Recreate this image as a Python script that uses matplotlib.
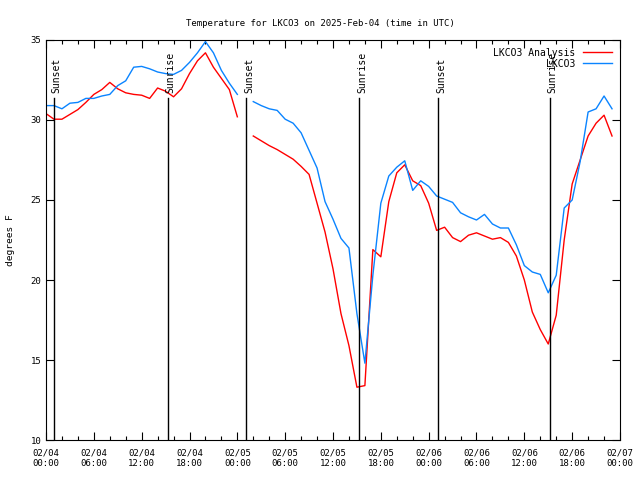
import numpy as np
import matplotlib
matplotlib.use("Agg")
import matplotlib.pyplot as plt

# hours since 02/04 00:00 UTC, hourly values (nan = missing hour)
hours = list(range(0, 72))
analysis = [30.4, 30.05, 30.05, 30.35, 30.65, 31.1, 31.6, 31.9, 32.35, 31.95,
            31.7, 31.6, 31.55, 31.35, 32.0, 31.8, 31.45, 31.95, 32.9, 33.7,
            34.2, 33.3, 32.6, 31.9, 30.2, np.nan, 29.0, 28.7, 28.4, 28.15,
            27.85, 27.55, 27.1, 26.6, 24.8, 23.0, 20.7, 17.9, 15.9, 13.3,
            13.4, 21.9, 21.45, 24.9, 26.7, 27.2, 26.2, 25.9, 24.8, 23.1,
            23.3, 22.65, 22.4, 22.8, 22.95, 22.75, 22.55, 22.65, 22.35, 21.5,
            20.0, 18.0, 16.9, 16.0, 17.8, 22.5, 26.0, 27.5, 29.0, 29.8,
            30.3, 29.0]
observed = [30.9, 30.9, 30.7, 31.05, 31.1, 31.35, 31.35, 31.5, 31.6, 32.15,
            32.45, 33.3, 33.35, 33.2, 33.0, 32.9, 32.85, 33.1, 33.6, 34.2,
            34.9, 34.2, 33.1, 32.3, 31.6, np.nan, 31.15, 30.9, 30.7, 30.6,
            30.05, 29.8, 29.2, 28.1, 27.0, 24.9, 23.8, 22.6, 22.0, 17.9,
            14.8, 20.3, 24.8, 26.5, 27.05, 27.45, 25.6, 26.2, 25.85, 25.25,
            25.05, 24.85, 24.2, 23.95, 23.75, 24.1, 23.5, 23.25, 23.25, 22.2,
            20.9, 20.5, 20.35, 19.2, 20.3, 24.5, 25.0, 27.4, 30.5, 30.7,
            31.5, 30.7]

sun_hours = [1.0, 15.3, 25.1, 39.3, 49.2, 63.2]
sun_labels = ["Sunset", "Sunrise", "Sunset", "Sunrise", "Sunset", "Sunrise"]

tick_hours = list(range(0, 73, 6))
tick_labels = ["02/04\n00:00", "02/04\n06:00", "02/04\n12:00", "02/04\n18:00",
               "02/05\n00:00", "02/05\n06:00", "02/05\n12:00", "02/05\n18:00",
               "02/06\n00:00", "02/06\n06:00", "02/06\n12:00", "02/06\n18:00",
               "02/07\n00:00"]

plt.rcParams['font.family'] = ['DejaVu Sans Mono']
fs = 6.5

fig = plt.figure(figsize=(6.4, 4.8), dpi=100)
ax = fig.add_axes([46/640, 40/480, 574/640, 400/480])

ax.plot(hours, analysis, color='#ff0000', lw=1.0, label='LKCO3 Analysis')
ax.plot(hours, observed, color='#0a84ff', lw=1.0, label='LKCO3')

# sunrise / sunset markers
for h, lab in zip(sun_hours, sun_labels):
    ax.plot([h, h], [10, 31.4], color='black', lw=1.0)
    ax.text(h + 0.35, 31.7, lab, rotation=90, ha='center', va='bottom', fontsize=fs + 0.5)

ax.set_xlim(0, 72)
ax.set_ylim(10, 35)
ax.set_xticks(tick_hours)
ax.set_xticklabels(tick_labels, fontsize=fs)
ax.set_xticks(range(0, 73, 2), minor=True)
ax.set_yticks([10, 15, 20, 25, 30, 35])
ax.tick_params(axis='both', which='both', direction='in', top=True, right=True,
               labelsize=fs, width=0.8)
ax.tick_params(axis='both', which='major', length=6)
ax.tick_params(axis='x', which='minor', length=3)
ax.tick_params(axis='x', which='major', pad=6)
for s in ax.spines.values():
    s.set_linewidth(0.8)

ax.set_ylabel("degrees F", fontsize=fs + 0.3, labelpad=11)
fig.suptitle("Temperature for LKCO3 on 2025-Feb-04 (time in UTC)", y=0.96, fontsize=fs)

leg = ax.legend(loc='upper right', frameon=False, fontsize=fs + 0.5, markerfirst=False,
                handlelength=3.0, borderaxespad=0.4, labelspacing=0.1)
for t in leg.get_texts():
    t.set_ha('right')

fig.savefig('out.png', dpi=100)
